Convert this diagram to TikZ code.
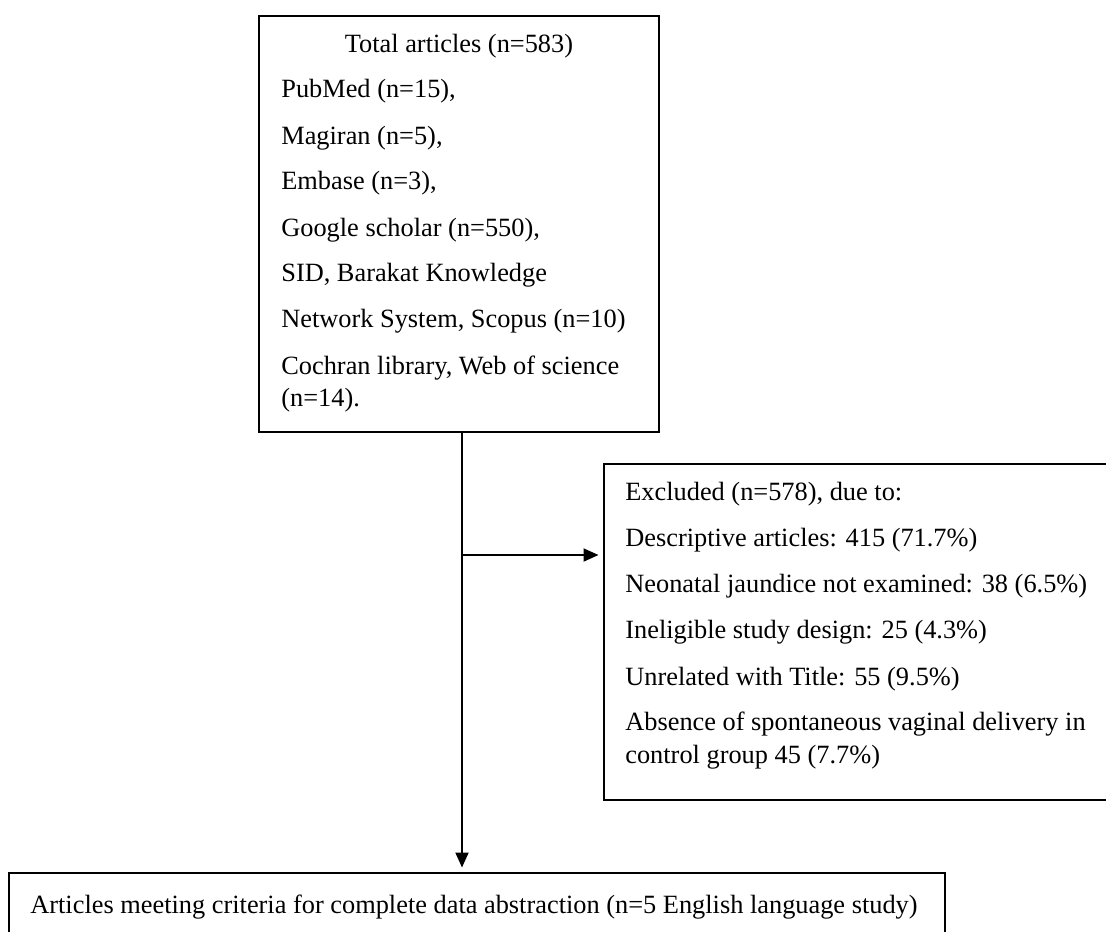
\documentclass[tikz,border=0pt]{standalone}
\usepackage{fontspec}
\setmainfont{Liberation Serif}
\usetikzlibrary{arrows.meta,positioning,calc}
\tikzset{
  box/.style  = {draw=black, line width=0.8pt, inner sep=0pt, outer sep=0pt, anchor=north west},
  txt/.style  = {font=\fontsize{15}{18}\selectfont, inner sep=0pt, anchor=base west},
  link/.style = {black, line width=1.1pt},
  conn/.style = {link, -{Triangle[length=3mm,width=2.6mm]}, shorten >=0.11cm}
}
\begin{document}
\begin{tikzpicture}[x=0.02cm, y=-0.02cm]
    % Page frame (pixel grid of the figure)
    \useasboundingbox (0,0) rectangle (1106,931);
    \clip (0,0) rectangle (1106,931);

    % ----- Boxes -----
    \node[box, minimum width=8cm,     minimum height=8.32cm] (srcbox)   at (259,16)  {};
    \node[box, minimum width=10.32cm, minimum height=6.72cm] (exclbox)  at (604,464) {};
    \node[box, minimum width=18.72cm, minimum height=1.8cm]  (finalbox) at (9,873)   {};

    % ----- Search sources -----
    \node[txt, anchor=base] (srctitle) at (459,52) {Total articles (n=583)};
    \foreach \y/\s [count=\i] in {97/{PubMed (n=15),}, 144/{Magiran (n=5),}, 189/{Embase (n=3),},
        236/{Google scholar (n=550),}, 281/{SID, Barakat Knowledge},
        327/{Network System, Scopus (n=10)}, 374/{Cochran library, Web of science}, 406/{(n=14).}}{
      \node[txt] (src\i) at (281,\y) {\s};
    }

    % ----- Exclusions -----
    \foreach \y/\s [count=\i] in {500/{Excluded (n=578), due to:}, 546/{Descriptive articles: 415 (71.7\%)},
        592/{Neonatal jaundice not examined: 38 (6.5\%)}, 638/{Ineligible study design: 25 (4.3\%)},
        685/{Unrelated with Title: 55 (9.5\%)}, 730/{Absence of spontaneous vaginal delivery in},
        763/{control group 45 (7.7\%)}}{
      \node[txt] (excl\i) at (625,\y) {\s};
    }

    % ----- Included -----
    \node[txt] (finaltxt) at (30,913) {Articles meeting criteria for complete data abstraction (n=5 English language study)};

    % Connections
    \coordinate (split) at (462,555);
    \draw[link] (srcbox.south -| split) -- (split);
    \draw[conn] (split) -- (finalbox.north -| split);
    \draw[conn] (split) -- (exclbox.west |- split);
\end{tikzpicture}
\end{document}
